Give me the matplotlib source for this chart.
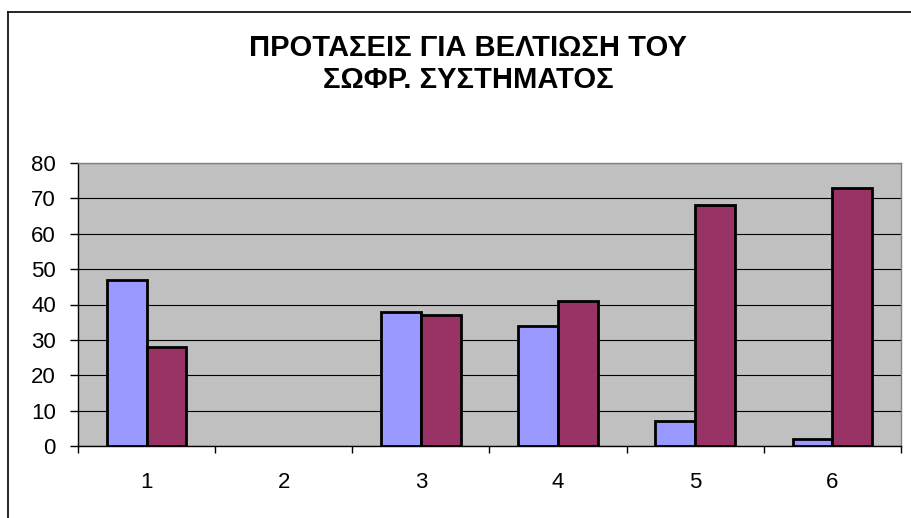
import matplotlib.pyplot as plt
import numpy as np
from matplotlib.lines import Line2D

categories = ["1", "2", "3", "4", "5", "6"]
series_a = [47, 0, 38, 34, 7, 2]
series_b = [28, 0, 37, 41, 68, 73]
yticks = [0, 10, 20, 30, 40, 50, 60, 70, 80]

plt.rcParams['font.family'] = ['Liberation Sans', 'DejaVu Sans']

fig = plt.figure(figsize=(9.12, 5.18), dpi=100)
ax = fig.add_axes([78 / 912, 1 - 446 / 518, (901 - 78) / 912, (446 - 163) / 518])

x = np.arange(len(categories))
w = 0.29
for i in range(len(categories)):
    if series_a[i] > 0:
        ax.bar(x[i] - w / 2, series_a[i], w, color="#9999FF", edgecolor="black", linewidth=2, zorder=3)
    if series_b[i] > 0:
        ax.bar(x[i] + w / 2, series_b[i], w, color="#993366", edgecolor="black", linewidth=2, zorder=3)

ax.set_facecolor("#C0C0C0")
ax.set_xlim(-0.5, len(categories) - 0.5)
ax.set_ylim(0, 80)
ax.set_yticks(yticks)
ax.set_yticklabels([str(v) for v in yticks], fontsize=16)
ax.set_xticks(x)
ax.set_xticklabels(categories, fontsize=16)
ax.set_xticks(np.arange(len(categories) + 1) - 0.5, minor=True)
ax.tick_params(axis="x", which="major", length=0, pad=19)
ax.tick_params(axis="x", which="minor", length=5, width=1, color="black", direction="out")
ax.tick_params(axis="y", length=6, width=1, direction="out", pad=10)
ax.yaxis.grid(True, color="black", linewidth=0.8, zorder=1)
ax.set_axisbelow(True)

for s in ["top", "right"]:
    ax.spines[s].set_color("#808080")
    ax.spines[s].set_linewidth(1)
for s in ["left", "bottom"]:
    ax.spines[s].set_color("black")
    ax.spines[s].set_linewidth(1)

fig.text(0.5 * (245 + 691) / 912, 1 - 64 / 518,
         "ΠΡΟΤΑΣΕΙΣ ΓΙΑ ΒΕΛΤΙΩΣΗ ΤΟΥ\nΣΩΦΡ. ΣΥΣΤΗΜΑΤΟΣ",
         ha="center", va="center", fontsize=21, fontweight="bold", linespacing=1.2)

# chart frame (top and left edges visible)
fig.add_artist(Line2D([8 / 912, 8 / 912], [0, 1 - 12 / 518], color="black", linewidth=1.2, transform=fig.transFigure))
fig.add_artist(Line2D([8 / 912, 1], [1 - 12 / 518, 1 - 12 / 518], color="black", linewidth=1.2, transform=fig.transFigure))

fig.savefig("out.png", dpi=100, facecolor="white")
